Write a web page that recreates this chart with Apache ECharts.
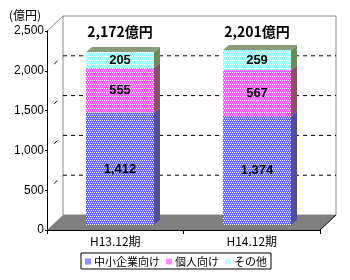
<!DOCTYPE html>
<html><head><meta charset="utf-8">
<script src="https://cdn.jsdelivr.net/npm/echarts@6/dist/echarts.min.js"></script>
<style>html,body{margin:0;padding:0;background:#fff}#c{width:350px;height:280px}</style>
</head><body><div id="c"></div>
<script>
const categories = ['H13.12期', 'H14.12期'];
const seriesNames = ['中小企業向け', '個人向け', 'その他'];
const smeValues = [1412, 1374];
const personalValues = [555, 567];
const otherValues = [205, 259];
const totalValues = [2172, 2201];
const yMin = 0, yMax = 2500, yInterval = 500;
const unitLabel = '(億円)';

const FONT = '"Noto Sans CJK JP", "Liberation Sans", sans-serif';
const FLOOR_DX = 16, FLOOR_DY = -15;
const BAR_OX = 5, BAR_OY = -5;
const BAR_DX = 6, BAR_DY = -5;

const baseColors = ['#6a6aff', '#ff5cff', '#99ffff'];
const solidColors = ['#9090ff', '#ff88ff', '#c0ffff'];
const sideFills = ['#50509a', '#8c5064', '#6e8c5a'];
const topFill = '#8a9c7a';
const valueSets = [smeValues, personalValues, otherValues];

function makeTile(base) {
  const c = document.createElement('canvas');
  c.width = 4; c.height = 4;
  const g = c.getContext('2d');
  g.fillStyle = base; g.fillRect(0, 0, 4, 4);
  g.fillStyle = '#ffffff';
  g.fillRect(0, 0, 1, 1); g.fillRect(2, 0, 1, 1); g.fillRect(1, 2, 1, 1); g.fillRect(3, 2, 1, 1);
  return c;
}
const tiles = baseColors.map(makeTile);
function fmt(v) { return v.toLocaleString('en-US'); }

function decorRender(params, api) {
  const cs = params.coordSys;
  const x = cs.x, y = cs.y, w = cs.width, h = cs.height;
  const ch = [];
  ch.push({ type: 'rect', shape: { x: x + FLOOR_DX, y: y + FLOOR_DY, width: w, height: h },
    style: { fill: '#fff', stroke: '#8c8c8c', lineWidth: 1 } });
  ch.push({ type: 'line', shape: { x1: x, y1: y, x2: x + FLOOR_DX, y2: y + FLOOR_DY },
    style: { stroke: '#8c8c8c', lineWidth: 1 } });
  for (let v = yMin + yInterval; v < yMax; v += yInterval) {
    const yy = api.coord([0, v])[1];
    ch.push({ type: 'line', shape: { x1: x + FLOOR_DX, y1: yy + FLOOR_DY, x2: x + FLOOR_DX + w, y2: yy + FLOOR_DY },
      style: { stroke: '#000', lineWidth: 1, lineDash: [4, 4] } });
    ch.push({ type: 'line', shape: { x1: x + FLOOR_DX * 0.45, y1: yy + FLOOR_DY * 0.45, x2: x + FLOOR_DX * 0.65, y2: yy + FLOOR_DY * 0.65 },
      style: { stroke: '#000', lineWidth: 1 } });
  }
  ch.push({ type: 'polygon', shape: { points: [[x, y + h], [x + FLOOR_DX, y + h + FLOOR_DY], [x + w + FLOOR_DX, y + h + FLOOR_DY], [x + w, y + h]] },
    style: { fill: '#808080' } });
  ch.push({ type: 'line', shape: { x1: x + w, y1: y + h, x2: x + w + FLOOR_DX, y2: y + h + FLOOR_DY },
    style: { stroke: '#000', lineWidth: 1 } });
  return { type: 'group', children: ch };
}

function makeBarRender(segIndex) {
  return function (params, api) {
    const cat = api.value(0), base = api.value(1), val = api.value(2);
    const p0 = api.coord([cat, base]);
    const p1 = api.coord([cat, base + val]);
    const bw = api.size([1, 0])[0] * 0.5;
    const x0 = Math.round(p0[0] - bw / 2 + BAR_OX), x1 = Math.round(x0 + bw);
    const yb = Math.round(p0[1] + BAR_OY), yt = Math.round(p1[1] + BAR_OY);
    const ch = [];
    ch.push({ type: 'rect', shape: { x: x0, y: yt, width: x1 - x0, height: yb - yt },
      style: { fill: { image: tiles[segIndex], repeat: 'repeat' } } });
    ch.push({ type: 'polygon', shape: { points: [[x1, yb], [x1 + BAR_DX, yb + BAR_DY], [x1 + BAR_DX, yt + BAR_DY], [x1, yt]] },
      style: { fill: sideFills[segIndex] } });
    if (segIndex === valueSets.length - 1) {
      ch.push({ type: 'polygon', shape: { points: [[x0, yt], [x0 + BAR_DX, yt + BAR_DY], [x1 + BAR_DX, yt + BAR_DY], [x1, yt]] },
        style: { fill: topFill } });
      const ty = api.coord([cat, yMax])[1] + 1;
      ch.push({ type: 'text', style: { x: (x0 + x1) / 2, y: ty, text: fmt(totalValues[cat]) + '億円', align: 'center', verticalAlign: 'middle',
        font: 'bold 14px ' + FONT, fill: '#000' } });
    }
    ch.push({ type: 'text', style: { x: (x0 + x1) / 2, y: (yt + yb) / 2, text: fmt(val), align: 'center', verticalAlign: 'middle',
      font: 'bold 13px "Liberation Sans", sans-serif', fill: '#000' } });
    return { type: 'group', children: ch };
  };
}

const barSeries = valueSets.map((vals, si) => ({
  type: 'custom',
  name: seriesNames[si],
  renderItem: makeBarRender(si),
  itemStyle: { color: solidColors[si] },
  encode: { x: 0, y: [1, 2] },
  z: 3,
  data: vals.map((v, ci) => {
    let base = 0;
    for (let k = 0; k < si; k++) base += valueSets[k][ci];
    return [ci, base, v];
  })
}));

const chart = echarts.init(document.getElementById('c'), null, { renderer: 'canvas' });
chart.setOption({
  animation: false,
  backgroundColor: '#fff',
  title: { text: unitLabel, left: 4, top: 4, textStyle: { fontSize: 12, fontWeight: 'normal', color: '#000', fontFamily: FONT } },
  grid: { left: 47, right: 30, top: 31, bottom: 50 },
  legend: {
    data: seriesNames.map((n, i) => ({ name: n, icon: 'rect', itemStyle: { color: solidColors[i] } })),
    left: 81, top: 253, padding: [3, 4, 2, 4], itemGap: 6, itemWidth: 6, itemHeight: 6,
    borderColor: '#000', borderWidth: 1, backgroundColor: '#fff',
    textStyle: { fontSize: 11, color: '#000', fontFamily: FONT, padding: [0, 0, 0, -2] }
  },
  xAxis: {
    type: 'category', data: categories, z: 10,
    axisLine: { lineStyle: { color: '#000', width: 1 } },
    axisTick: { show: true, length: 4, lineStyle: { color: '#000' } },
    axisLabel: { color: '#000', fontSize: 12, margin: 5, fontFamily: FONT },
    splitLine: { show: false }
  },
  yAxis: {
    type: 'value', min: yMin, max: yMax, interval: yInterval, z: 10,
    axisLine: { show: true, lineStyle: { color: '#000', width: 1 } },
    axisTick: { show: true, length: 2, lineStyle: { color: '#000' } },
    axisLabel: { color: '#000', fontSize: 12, margin: 3, fontFamily: '"Liberation Sans", sans-serif',
      formatter: v => fmt(v) },
    splitLine: { show: false }
  },
  series: [{
    type: 'custom', name: 'decor', renderItem: decorRender, data: [[0, 0, 0]], encode: { x: 0, y: 1 }, z: 1, silent: true
  }].concat(barSeries)
});
</script></body></html>
